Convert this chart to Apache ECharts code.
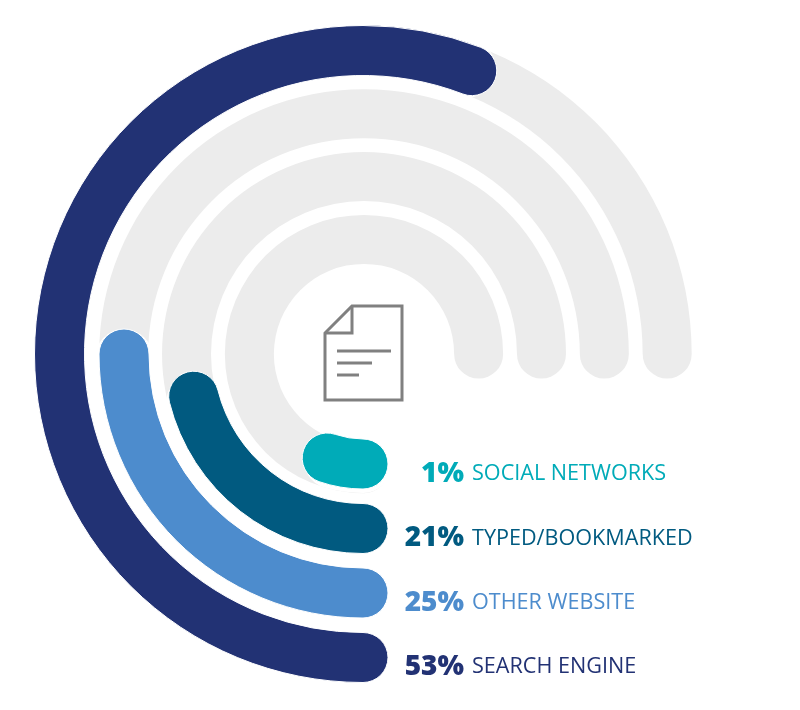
<!DOCTYPE html>
<html>
<head>
<meta charset="utf-8">
<title>Traffic sources</title>
<style>
  html, body { margin: 0; padding: 0; background: #fff; }
  #chart { width: 800px; height: 710px; }
</style>
<script src="https://cdn.jsdelivr.net/npm/echarts@6/dist/echarts.min.js"></script>
</head>
<body>
<div id="chart"></div>
<script>
// inner ring first
const sources = ["SOCIAL NETWORKS", "TYPED/BOOKMARKED", "OTHER WEBSITE", "SEARCH ENGINE"];
const shares = ["1%", "21%", "25%", "53%"];
// arc lengths in degrees (clockwise from the bottom)
const arcDegrees = [19, 76, 90, 201];
const trackDegrees = [270, 270, 270, 270];
// white arcs under the coloured ones, a little shorter so their caps stay hidden
const maskDegrees = [16, 74, 89, 200];
const colors = ["#00abb8", "#015a80", "#4d8ccd", "#223274"];

const chart = echarts.init(document.getElementById("chart"));

function hiddenAngle(polarIndex) {
    return { polarIndex, type: "value", min: 0, max: 360, startAngle: 270, show: false };
}
function hiddenRadius(polarIndex) {
    return { polarIndex, type: "category", data: sources, show: false };
}

// Legend rows, top row lines up with the inner ring
const labels = [];
sources.forEach((name, i) => {
    const y = 474 + i * 64.4;
    labels.push({
        type: "text",
        style: { x: 464, y, text: shares[i], align: "right", verticalAlign: "middle",
            font: "800 28px 'Open Sans'", fill: colors[i] }
    });
    labels.push({
        type: "text",
        style: { x: 472, y, text: name, align: "left", verticalAlign: "middle",
            font: "400 21.6px 'Open Sans'", fill: colors[i] }
    });
});

const iconLine = { stroke: "#808080", lineWidth: 3, fill: null };
const icon = [
    { type: "polygon", shape: { points: [[352, 306], [402, 306], [402, 400], [325, 400], [325, 333]] }, style: iconLine },
    { type: "polyline", shape: { points: [[352, 306], [352, 333], [325, 333]] }, style: iconLine },
    { type: "line", shape: { x1: 337, y1: 351, x2: 391, y2: 351 }, style: iconLine },
    { type: "line", shape: { x1: 337, y1: 363, x2: 372, y2: 363 }, style: iconLine },
    { type: "line", shape: { x1: 337, y1: 375, x2: 359, y2: 375 }, style: iconLine }
];

const colorPolar = { center: [363, 354], radius: [77.75, 335.75] };

chart.setOption({
    animation: false,
    backgroundColor: "#fff",
    polar: [
        { center: [364, 354], radius: [83.2, 334.6] },
        colorPolar,
        colorPolar
    ],
    angleAxis: [hiddenAngle(0), hiddenAngle(1), hiddenAngle(2)],
    radiusAxis: [hiddenRadius(0), hiddenRadius(1), hiddenRadius(2)],
    series: [
        {
            type: "bar",
            coordinateSystem: "polar",
            polarIndex: 0,
            roundCap: true,
            barWidth: 49,
            silent: true,
            itemStyle: { color: "#ececec" },
            data: trackDegrees
        },
        {
            // wide white arcs so no grey track peeks out beside the coloured ones
            type: "bar",
            coordinateSystem: "polar",
            polarIndex: 1,
            roundCap: true,
            barWidth: 58,
            silent: true,
            itemStyle: { color: "#fff" },
            data: maskDegrees
        },
        {
            type: "bar",
            coordinateSystem: "polar",
            polarIndex: 2,
            roundCap: true,
            barWidth: 50,
            silent: true,
            data: arcDegrees.map((value, i) => ({
                value,
                itemStyle: { color: colors[i], borderColor: "#fff", borderWidth: 1 }
            }))
        }
    ],
    graphic: [...icon, ...labels]
});
</script>
</body>
</html>
